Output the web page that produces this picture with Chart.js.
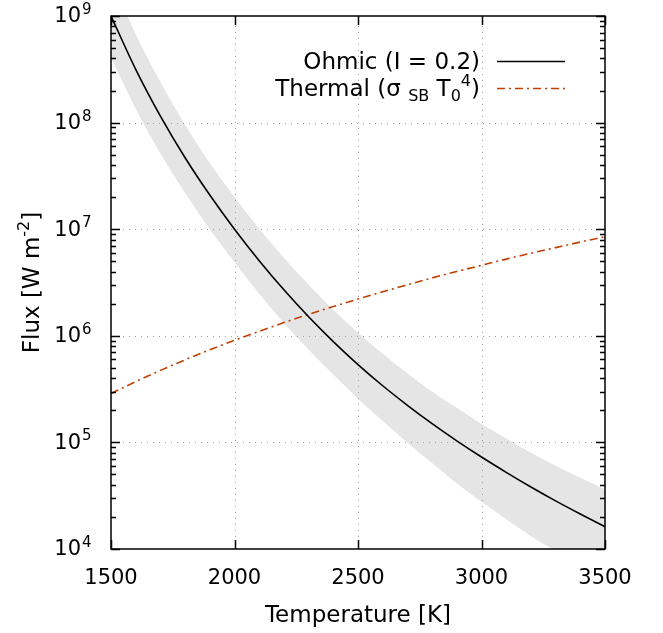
<!DOCTYPE html>
<html>
<head>
<meta charset="utf-8">
<script src="https://cdn.jsdelivr.net/npm/chart.js@4"></script>
<style>
  html, body { margin: 0; padding: 0; background: #fff; }
  #wrap { width: 663px; height: 633px; }
</style>
</head>
<body>
<div id="wrap"><canvas id="fluxChart" width="663" height="633"></canvas></div>
<script>
// --- data ---
const temps = [1500, 1600, 1700, 1800, 1900, 2000, 2100, 2200, 2300, 2400, 2500,
               2600, 2700, 2800, 2900, 3000, 3100, 3200, 3300, 3400, 3500];
const ohmic = [1.0e9, 3.16e8, 1.15e8, 4.68e7, 2.09e7, 1.0e7, 5.07e6, 2.70e6, 1.51e6, 8.83e5, 5.37e5,
               3.40e5, 2.23e5, 1.50e5, 1.035e5, 7.29e4, 5.24e4, 3.82e4, 2.83e4, 2.13e4, 1.62e4];
const ohmicHigh = [2.24e9, 6.76e8, 2.40e8, 9.55e7, 4.17e7, 2.0e7, 1.01e7, 5.40e6, 3.01e6, 1.76e6, 1.07e6,
                   6.79e5, 4.45e5, 2.99e5, 2.11e5, 1.49e5, 1.09e5, 7.98e4, 6.05e4, 4.66e4, 3.63e4];
const ohmicLow = [4.07e8, 1.35e8, 5.13e7, 2.19e7, 1.0e7, 4.9e6, 2.48e6, 1.32e6, 7.40e5, 4.33e5, 2.57e5,
                  1.59e5, 9.95e4, 6.40e4, 4.12e4, 2.77e4, 1.90e4, 1.32e4, 9.6e3, 7.0e3, 5.2e3];
const thermal = [2.87e5, 3.72e5, 4.74e5, 5.95e5, 7.39e5, 9.07e5, 1.10e6, 1.33e6, 1.59e6, 1.88e6, 2.21e6,
                 2.59e6, 3.01e6, 3.49e6, 4.01e6, 4.59e6, 5.24e6, 5.95e6, 6.72e6, 7.58e6, 8.51e6];
const xTicks = [1500, 2000, 2500, 3000, 3500];
const yExponents = [4, 5, 6, 7, 8, 9];

const FONT = "'DejaVu Sans', sans-serif";
const THERMAL_COLOR = '#c04000';
const THERMAL_DASH = [8, 4, 2, 4];

function pts(arr) {
    return temps.map((t, i) => ({ x: t, y: arr[i] }));
}

// grid drawn over the grey band but under the curves
const gridPlugin = {
    id: 'gridPlugin',
    afterDatasetDraw(chart, args) {
        if (args.index !== 2) return;
        const { ctx, chartArea: a, scales: { x, y } } = chart;
        ctx.save();
        ctx.strokeStyle = '#a0a0a0';
        ctx.lineWidth = 1;
        ctx.setLineDash([1, 5]);
        xTicks.slice(1, -1).forEach(v => {
            const px = Math.round(x.getPixelForValue(v)) + 0.5;
            ctx.beginPath(); ctx.moveTo(px, a.bottom); ctx.lineTo(px, a.top); ctx.stroke();
        });
        yExponents.slice(1, -1).forEach(e => {
            const py = Math.round(y.getPixelForValue(Math.pow(10, e))) + 0.5;
            ctx.beginPath(); ctx.moveTo(a.left, py); ctx.lineTo(a.right, py); ctx.stroke();
        });
        ctx.restore();
    }
};

// frame, inward ticks, labels, titles, legend
const framePlugin = {
    id: 'framePlugin',
    afterDraw(chart) {
        const { ctx, chartArea: a, scales: { x, y } } = chart;
        ctx.save();
        ctx.strokeStyle = '#000';
        ctx.fillStyle = '#000';
        ctx.lineWidth = 1.5;
        ctx.setLineDash([]);

        // x ticks (bottom + mirrored top)
        xTicks.forEach(v => {
            const px = Math.round(x.getPixelForValue(v)) + 0.5;
            ctx.beginPath();
            ctx.moveTo(px, a.bottom); ctx.lineTo(px, a.bottom - 9);
            ctx.moveTo(px, a.top); ctx.lineTo(px, a.top + 9);
            ctx.stroke();
        });
        // y ticks, major + minor, both sides
        yExponents.forEach(e => {
            for (let m = 1; m <= 9; m++) {
                const v = m * Math.pow(10, e);
                if (v > 1e9) break;
                const py = Math.round(y.getPixelForValue(v)) + 0.5;
                const len = m === 1 ? 9 : 5;
                ctx.beginPath();
                ctx.moveTo(a.left, py); ctx.lineTo(a.left + len, py);
                ctx.moveTo(a.right, py); ctx.lineTo(a.right - len, py);
                ctx.stroke();
            }
        });
        ctx.strokeRect(a.left, a.top, a.right - a.left, a.bottom - a.top);

        // x tick labels
        ctx.font = '21px ' + FONT;
        ctx.textAlign = 'center';
        ctx.textBaseline = 'middle';
        xTicks.forEach(v => ctx.fillText(String(v), x.getPixelForValue(v), a.bottom + 30));

        // y tick labels 10^n
        yExponents.forEach(e => {
            const py = y.getPixelForValue(Math.pow(10, e));
            ctx.font = '21px ' + FONT;
            ctx.textAlign = 'right';
            ctx.textBaseline = 'middle';
            ctx.fillText('10', 81, py + 1);
            ctx.font = '15px ' + FONT;
            ctx.textAlign = 'left';
            ctx.textBaseline = 'alphabetic';
            ctx.fillText(String(e), 82, py - 2);
        });

        // x title
        ctx.font = '23px ' + FONT;
        ctx.textAlign = 'center';
        ctx.textBaseline = 'middle';
        ctx.fillText('Temperature [K]', (a.left + a.right) / 2, 616);

        // y title, rotated, with superscript
        ctx.save();
        ctx.translate(31, (a.top + a.bottom) / 2);
        ctx.rotate(-Math.PI / 2);
        drawRich(ctx, [
            { t: 'Flux [W m', s: 0 },
            { t: '-2', s: 1 },
            { t: ']', s: 0 }
        ], 'center', 0, 8);
        ctx.restore();

        // legend
        drawRich(ctx, [{ t: 'Ohmic (I = 0.2)', s: 0 }], 'right', 480, 69);
        drawRich(ctx, [
            { t: 'Thermal (\u03c3 ', s: 0 },
            { t: 'SB', s: -1 },
            { t: ' T', s: 0 },
            { t: '0', s: -1 },
            { t: '4', s: 1 },
            { t: ')', s: 0 }
        ], 'right', 480, 96);

        ctx.lineWidth = 1.6;
        ctx.strokeStyle = '#000';
        ctx.beginPath(); ctx.moveTo(497, 61.5); ctx.lineTo(565, 61.5); ctx.stroke();
        ctx.strokeStyle = THERMAL_COLOR;
        ctx.setLineDash(THERMAL_DASH);
        ctx.beginPath(); ctx.moveTo(497, 88.5); ctx.lineTo(565, 88.5); ctx.stroke();
        ctx.restore();
    }
};

// s: 0 normal, 1 superscript, -1 subscript
function drawRich(ctx, parts, align, x0, base) {
    const fontFor = s => (s === 0 ? '23px ' : '16px ') + FONT;
    const offFor = s => (s === 1 ? -10 : s === -1 ? 5 : 0);
    let total = 0;
    parts.forEach(p => { ctx.font = fontFor(p.s); p.w = ctx.measureText(p.t).width; total += p.w; });
    let cx = align === 'right' ? x0 - total : align === 'center' ? x0 - total / 2 : x0;
    ctx.textAlign = 'left';
    ctx.textBaseline = 'alphabetic';
    parts.forEach(p => {
        ctx.font = fontFor(p.s);
        ctx.fillText(p.t, cx, base + offFor(p.s));
        cx += p.w;
    });
}

const ctx = document.getElementById('fluxChart').getContext('2d');
new Chart(ctx, {
    type: 'line',
    data: {
        datasets: [
            {
                label: 'Ohmic (I = 0.2)',
                data: pts(ohmic),
                borderColor: '#000',
                borderWidth: 1.6,
                pointRadius: 0,
                cubicInterpolationMode: 'monotone',
                fill: false
            },
            {
                label: 'Thermal',
                data: pts(thermal),
                borderColor: THERMAL_COLOR,
                borderWidth: 1.6,
                borderDash: THERMAL_DASH,
                pointRadius: 0,
                cubicInterpolationMode: 'monotone',
                fill: false
            },
            {
                label: 'band high',
                data: pts(ohmicHigh),
                borderWidth: 0,
                borderColor: 'rgba(0,0,0,0)',
                backgroundColor: '#e5e5e5',
                pointRadius: 0,
                cubicInterpolationMode: 'monotone',
                fill: '+1'
            },
            {
                label: 'band low',
                data: pts(ohmicLow),
                borderWidth: 0,
                borderColor: 'rgba(0,0,0,0)',
                pointRadius: 0,
                cubicInterpolationMode: 'monotone',
                fill: false
            }
        ]
    },
    options: {
        responsive: false,
        animation: false,
        events: [],
        layout: { padding: { left: 111, right: 58, top: 16, bottom: 84 } },
        plugins: { legend: { display: false }, tooltip: { enabled: false } },
        scales: {
            x: {
                type: 'linear', min: 1500, max: 3500,
                ticks: { display: false },
                grid: { display: false, drawTicks: false },
                border: { display: false }
            },
            y: {
                type: 'logarithmic', min: 1e4, max: 1e9,
                ticks: { display: false },
                grid: { display: false, drawTicks: false },
                border: { display: false }
            }
        }
    },
    plugins: [gridPlugin, framePlugin]
});
</script>
</body>
</html>
